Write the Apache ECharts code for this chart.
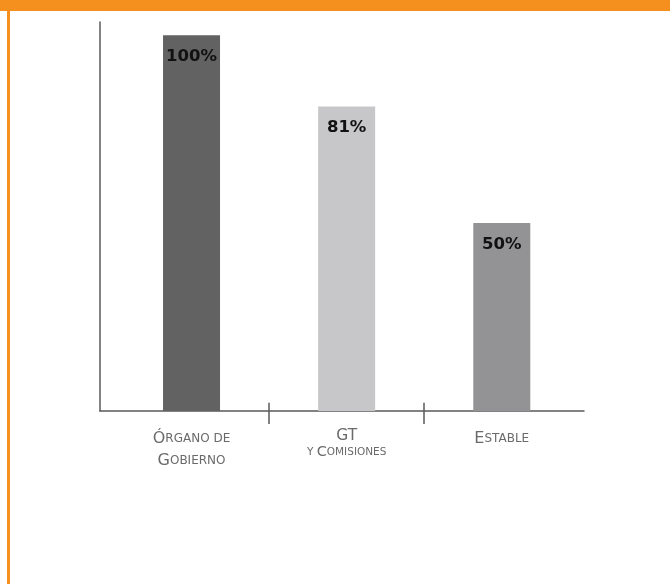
<!DOCTYPE html>
<html>
<head>
<meta charset="utf-8">
<script src="https://cdn.jsdelivr.net/npm/echarts@6/dist/echarts.min.js"></script>
<style>
  html, body { margin: 0; padding: 0; background: #fff; }
  #chart { width: 670px; height: 584px; }
</style>
</head>
<body>
<div id="chart"></div>
<script>
// categories sit at x = 1, 2, 3 on a value axis so the band edges can match the picture
const categories = ['Órgano de Gobierno', 'GT y Comisiones', 'Estable']
const values = [100, 81, 50]
const barColors = ['#626262', '#c7c7c9', '#939396']
const catLabels = [
  '{b|Ó}{s|RGANO DE}\n{b|G}{s|OBIERNO}',
  '{g|GT}\n{t|Y }{g2|C}{t|OMISIONES}',
  '{b|E}{s|STABLE}'
]
const separatorsAt = [1.5, 2.5]

const chart = echarts.init(document.getElementById('chart'))

const barData = values.map((v, i) => ({
  value: [i + 1, v],
  itemStyle: { color: barColors[i] }
}))

// upper half of the separators (lower half is the axis tick)
const separators = separatorsAt.map(x => [
  { coord: [x, 0] },
  { coord: [x, 2.2] }
])

const font = 'DejaVu Sans'
const grey = '#6a6a6a'

chart.setOption({
  animation: false,
  grid: { left: 100, right: 86, top: 22, bottom: 173 },
  xAxis: {
    type: 'value',
    min: 0.41,
    max: 3.53,
    splitLine: { show: false },
    axisLine: { show: true, lineStyle: { color: '#5a5a5a', width: 1.5 } },
    axisTick: {
      show: true,
      customValues: separatorsAt,
      length: 13,
      lineStyle: { color: '#5a5a5a', width: 1.5 }
    },
    axisLabel: {
      customValues: [1, 2, 3],
      margin: 17,
      color: grey,
      fontFamily: font,
      formatter: v => catLabels[Math.round(v) - 1] || '',
      rich: {
        b: { fontSize: 16, lineHeight: 22, color: grey, fontFamily: font },
        s: { fontSize: 12, lineHeight: 22, color: grey, fontFamily: font },
        g: { fontSize: 15.5, lineHeight: 16, color: grey, fontFamily: font },
        g2: { fontSize: 14.5, lineHeight: 16, color: grey, fontFamily: font },
        t: { fontSize: 10.5, lineHeight: 16, color: grey, fontFamily: font }
      }
    }
  },
  yAxis: {
    type: 'value',
    min: 0,
    max: 103.5,
    splitLine: { show: false },
    axisLine: { show: true, lineStyle: { color: '#5a5a5a', width: 1.5 } },
    axisTick: { show: false },
    axisLabel: { show: false }
  },
  series: [{
    type: 'bar',
    barWidth: 57,
    data: barData,
    label: {
      show: true,
      position: 'insideTop',
      distance: 13,
      formatter: p => p.value[1] + '%',
      color: '#111',
      fontFamily: 'DejaVu Sans',
      fontWeight: 'bold',
      fontSize: 16.5
    },
    markLine: {
      silent: true,
      symbol: 'none',
      label: { show: false },
      lineStyle: { color: '#5a5a5a', width: 1.5, type: 'solid' },
      data: separators
    }
  }],
  graphic: [
    { type: 'rect', shape: { x: 0, y: 0, width: 670, height: 11 }, style: { fill: '#f5901f' } },
    { type: 'rect', shape: { x: 7, y: 11, width: 3, height: 573 }, style: { fill: '#f5901f' } }
  ]
})
</script>
</body>
</html>
